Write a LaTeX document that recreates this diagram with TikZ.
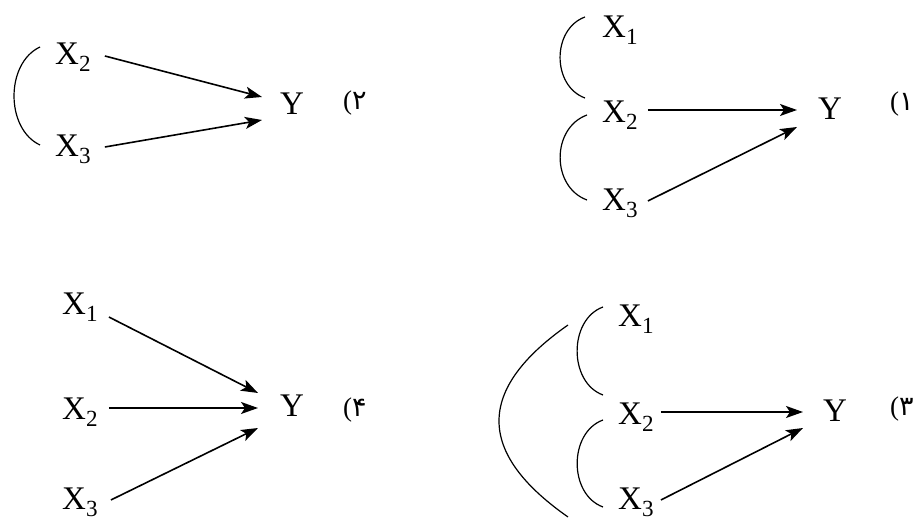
\documentclass[tikz,border=0pt]{standalone}
\usepackage{fontspec}
\setmainfont{Liberation Serif}
\newfontfamily\farsifont[Script=Arabic]{DejaVu Sans}
\usetikzlibrary{arrows.meta}
\tikzset{
  var/.style={inner sep=0pt, anchor=base west, font=\fontsize{33}{40}\selectfont},
  num/.style={var, font=\fontsize{27}{33}\selectfont},
  link/.style={line width=1.6pt, -{Stealth[length=17pt, width=12pt, inset=4pt]}},
  brace/.style={line width=1.2pt}
}

\begin{document}
\begin{tikzpicture}[x=1pt, y=1pt]
  \useasboundingbox (0,0) rectangle (919,529);

  % panel 2 (top left)
  \node[var] (p2x2) at (55,464) {X\textsubscript{2}};
  \node[var] (p2x3) at (55,372) {X\textsubscript{3}};
  \node[var] (p2y)  at (280,414) {Y};
  \node[num] (p2n)  at (343,419) {(\farsifont ۲};
  \draw[link] ([xshift=13.6pt, yshift=9pt]p2x2.base east) -- ([xshift=-18pt, yshift=18pt]p2y.base west);
  \draw[link] ([xshift=13.6pt, yshift=10pt]p2x3.base east) -- ([xshift=-18pt, yshift=-5pt]p2y.base west);
  \draw[brace] ([xshift=-15pt, yshift=18pt]p2x2.base west) to[bend right=65] ([xshift=-15pt, yshift=12pt]p2x3.base west);

  % panel 1 (top right)
  \node[var] (p1x1) at (602,491) {X\textsubscript{1}};
  \node[var] (p1x2) at (602,406) {X\textsubscript{2}};
  \node[var] (p1x3) at (602,318) {X\textsubscript{3}};
  \node[var] (p1y)  at (818,409) {Y};
  \node[num] (p1n)  at (890,418) {(\farsifont ۱};
  \draw[link] ([xshift=9.6pt, yshift=13pt]p1x2.base east) -- ([xshift=-21pt, yshift=10pt]p1y.base west);
  \draw[link] ([xshift=9.6pt, yshift=10pt]p1x3.base east) -- ([xshift=-21pt, yshift=-7pt]p1y.base west);
  \draw[brace] ([xshift=-17pt, yshift=21pt]p1x1.base west) to[bend right=70, looseness=1.12] ([xshift=-17pt, yshift=25pt]p1x2.base west);
  \draw[brace] ([xshift=-15pt, yshift=8pt]p1x2.base west) to[bend right=70, looseness=1.15] ([xshift=-15pt, yshift=11pt]p1x3.base west);

  % panel 4 (bottom left)
  \node[var] (p4x1) at (62,214) {X\textsubscript{1}};
  \node[var] (p4x2) at (62,109) {X\textsubscript{2}};
  \node[var] (p4x3) at (62,19)  {X\textsubscript{3}};
  \node[var] (p4y)  at (280,112) {Y};
  \node[num] (p4n)  at (343,112) {(\farsifont ۴};
  \draw[link] ([xshift=10.6pt, yshift=-2pt]p4x1.base east) -- ([xshift=-22pt, yshift=24pt]p4y.base west);
  \draw[link] ([xshift=10.6pt, yshift=12pt]p4x2.base east) -- ([xshift=-22pt, yshift=9pt]p4y.base west);
  \draw[link] ([xshift=12.6pt, yshift=10pt]p4x3.base east) -- ([xshift=-22pt, yshift=-11pt]p4y.base west);

  % panel 3 (bottom right)
  \node[var] (p3x1) at (618,202) {X\textsubscript{1}};
  \node[var] (p3x2) at (618,104) {X\textsubscript{2}};
  \node[var] (p3x3) at (618,19)  {X\textsubscript{3}};
  \node[var] (p3y)  at (823,107) {Y};
  \node[num] (p3n)  at (890,113) {(\farsifont ۳};
  \draw[link] ([xshift=6.6pt, yshift=13pt]p3x2.base east) -- ([xshift=-20pt, yshift=10pt]p3y.base west);
  \draw[link] ([xshift=6.6pt, yshift=10pt]p3x3.base east) -- ([xshift=-20pt, yshift=-6pt]p3y.base west);
  \draw[brace] ([xshift=-15pt, yshift=20pt]p3x1.base west) to[bend right=70, looseness=1.07] ([xshift=-15pt, yshift=30pt]p3x2.base west);
  \draw[brace] ([xshift=-15pt, yshift=5pt]p3x2.base west) to[bend right=70, looseness=1.08] ([xshift=-15pt, yshift=3pt]p3x3.base west);
  \draw[brace] ([xshift=-50pt, yshift=2pt]p3x1.base west) to[bend right=55, looseness=1.5] ([xshift=-50pt, yshift=-7pt]p3x3.base west);
\end{tikzpicture}
\end{document}
